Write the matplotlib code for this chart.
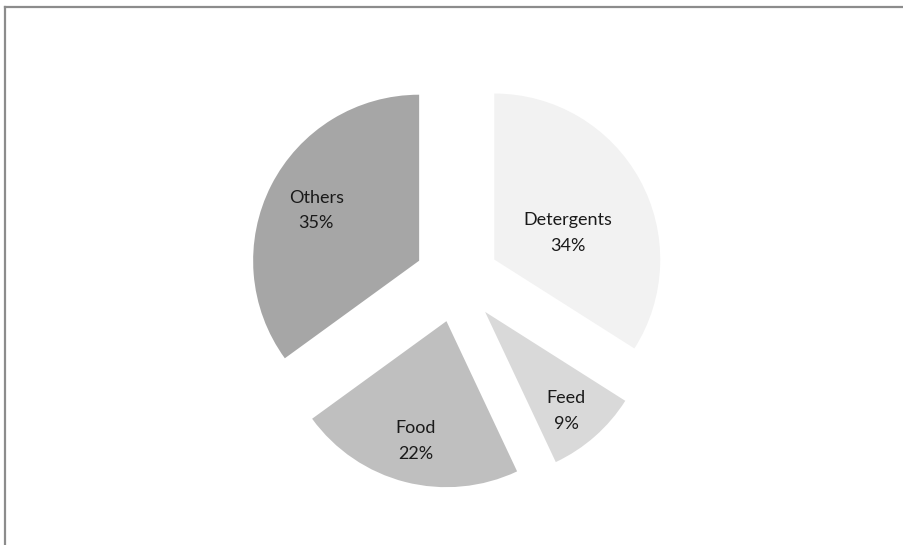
import matplotlib.pyplot as plt
import numpy as np
from matplotlib.lines import Line2D

categories = ['Detergents', 'Feed', 'Food', 'Others']
shares = [34, 9, 22, 35]
colors = ['#f2f2f2', '#d9d9d9', '#bfbfbf', '#a6a6a6']

# label placement: distance from exploded wedge centre (radii), angle nudge (deg)
label_pos = [(0.47, -9), (0.77, -2), (0.745, 0), (0.69, 1)]
explode = 0.256

fig = plt.figure(figsize=(9.04, 5.45), dpi=100)
ax = fig.add_axes([0, 0, 1, 1])

wedges, _ = ax.pie(shares, colors=colors, startangle=90, counterclock=False,
                   explode=[explode] * len(shares), radius=1,
                   wedgeprops={'linewidth': 0})

for w, cat, val, (r, dt) in zip(wedges, categories, shares, label_pos):
    mid = np.deg2rad((w.theta1 + w.theta2) / 2 + dt)
    cx, cy = w.center
    ax.text(cx + r * np.cos(mid), cy + r * np.sin(mid), '{}\n{}%'.format(cat, val),
            ha='center', va='center', fontsize=13, family='Lato',
            color='#1a1a1a', linespacing=1.75)

# pie centre at pixel (457, 280) from top-left, 166 px per unit
scale = 166
ax.set_xlim(-457 / scale, (904 - 457) / scale)
ax.set_ylim(-(545 - 280) / scale, 280 / scale)
ax.set_aspect('auto')
ax.axis('off')

# chart frame (top and left edges visible)
fig.add_artist(Line2D([5.5 / 904, 1], [1 - 7 / 545, 1 - 7 / 545], color='#8c8c8c', lw=1.6))
fig.add_artist(Line2D([5.5 / 904, 5.5 / 904], [0, 1 - 7 / 545], color='#8c8c8c', lw=1.6))

plt.savefig('out.png', dpi=100, facecolor='white')
